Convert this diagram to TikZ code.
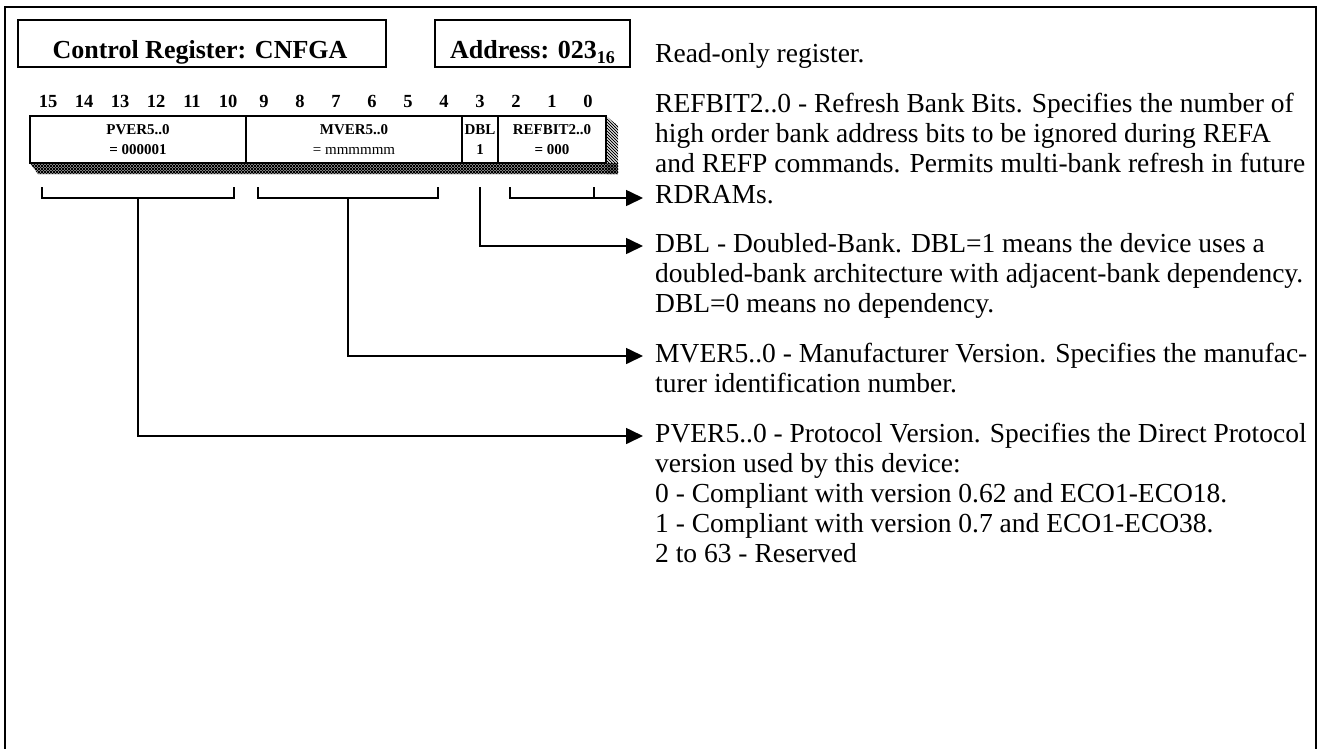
\documentclass[tikz,border=0pt]{standalone}
\usepackage{fontspec}
\setmainfont{Liberation Serif}
\usetikzlibrary{arrows.meta,patterns}
\pgfdeclarepatternformonly{regcheck}{\pgfqpoint{-0.5pt}{-0.5pt}}{\pgfqpoint{3.5pt}{3.5pt}}{\pgfqpoint{3pt}{3pt}}{%
  \pgfsetlinewidth{0.8pt}%
  \pgfpathmoveto{\pgfqpoint{0pt}{0pt}}\pgfpathlineto{\pgfqpoint{3pt}{3pt}}%
  \pgfpathmoveto{\pgfqpoint{0pt}{3pt}}\pgfpathlineto{\pgfqpoint{3pt}{0pt}}%
  \pgfusepath{stroke}}
\pgfdeclarepatternformonly{regdiag}{\pgfqpoint{-0.5pt}{-0.5pt}}{\pgfqpoint{3.5pt}{3.5pt}}{\pgfqpoint{3pt}{3pt}}{%
  \pgfsetlinewidth{0.8pt}%
  \pgfpathmoveto{\pgfqpoint{0pt}{3pt}}\pgfpathlineto{\pgfqpoint{3pt}{0pt}}%
  \pgfusepath{stroke}}
\begin{document}
\begin{tikzpicture}[x=1pt,y=-1pt,
  frameline/.style={line width=2.5pt},
  titlebox/.style={draw,line width=1.6pt,inner sep=0pt,minimum height=47pt},
  titletext/.style={font=\fontsize{26}{30}\selectfont\bfseries,anchor=base,inner sep=0pt},
  cell/.style={draw,line width=1.6pt,minimum height=47pt,inner sep=0pt,align=center,
    font=\fontsize{15}{20}\selectfont\bfseries},
  bitnum/.style={font=\fontsize{18.5}{20}\selectfont\bfseries,anchor=base,inner sep=0pt},
  desc/.style={font=\fontsize{27.5}{30}\selectfont,anchor=base west,inner sep=0pt},
  conn/.style={line width=1.6pt},
  arr/.style={conn,-{Triangle[length=17pt,width=16pt]}},
]
\useasboundingbox (0,0) rectangle (1327,748);
% outer frame (open at the bottom)
\draw[frameline] (5,760) -- (5,7) -- (1316,7) -- (1316,760);

% title boxes
\node[titlebox,minimum width=368pt] (ctrl) at (202,43.5) {};
\node[titletext] (ctrltxt) at (200,58) {Control Register: CNFGA};
\node[titlebox,minimum width=195pt] (addr) at (532.5,43.5) {};
\node[titletext] (addrtxt) at (532.5,58) {Address: 023\raisebox{-5pt}{\fontsize{18}{20}\selectfont 16}};

% bit numbers
\foreach \b in {0,...,15}
  \node[bitnum] (bit\b) at ({588-36*\b},107) {\b};

% shadow of the register
\fill[pattern=regcheck] (30,163) -- (618,163) -- (618,174) -- (38,174) -- cycle;
\fill[pattern=regdiag] (606,116) -- (618,126) -- (618,174) -- (606,174) -- cycle;

% register cells
\node[cell,minimum width=216pt] (pver) at (138,139.5) {PVER5..0\\= 000001};
\node[cell,minimum width=216pt] (mver) at (354,139.5) {MVER5..0\\{\mdseries = mmmmmm}};
\node[cell,minimum width=36pt] (dbl) at (480,139.5) {DBL\\1};
\node[cell,minimum width=108pt] (ref) at (552,139.5) {REFBIT2..0\\= 000};

% description text
\node[desc] (ro) at (655,62) {Read-only register.};
\node[desc] (r1) at (655,112) {REFBIT2..0 - Refresh Bank Bits. Specifies the number of};
\node[desc] (r2) at (655,142) {high order bank address bits to be ignored during REFA};
\node[desc] (r3) at (655,172) {and REFP commands. Permits multi-bank refresh in future};
\node[desc] (r4) at (655,203) {RDRAMs.};
\node[desc] (d1) at (655,252) {DBL - Doubled-Bank. DBL=1 means the device uses a};
\node[desc] (d2) at (655,282) {doubled-bank architecture with adjacent-bank dependency.};
\node[desc] (d3) at (655,312) {DBL=0 means no dependency.};
\node[desc] (m1) at (655,362) {MVER5..0 - Manufacturer Version. Specifies the manufac-};
\node[desc] (m2) at (655,392) {turer identification number.};
\node[desc] (p1) at (655,442) {PVER5..0 - Protocol Version. Specifies the Direct Protocol};
\node[desc] (p2) at (655,472) {version used by this device:};
\node[desc] (p3) at (655,502) {0 - Compliant with version 0.62 and ECO1-ECO18.};
\node[desc] (p4) at (655,532) {1 - Compliant with version 0.7 and ECO1-ECO38.};
\node[desc] (p5) at (655,562) {2 to 63 - Reserved};

% connector coordinates
\coordinate (pvl) at (42,187);   \coordinate (pvr) at (234,187); \coordinate (pvm) at (138,198);
\coordinate (mvl) at (258,187);  \coordinate (mvr) at (438,187); \coordinate (mvm) at (348,198);
\coordinate (dbt) at (480,187);
\coordinate (rfl) at (510,187);  \coordinate (rft) at (594,187);
\coordinate (tref) at (643,198);
\coordinate (tdbl) at (643,246);
\coordinate (tmver) at (643,356);
\coordinate (tpver) at (643,436);

% brackets and arrows
\draw[conn] (pvl) -- ++(0,11) -| (pvr);
\draw[arr] (pvm) |- (tpver);
\draw[conn] (mvl) -- ++(0,11) -| (mvr);
\draw[arr] (mvm) |- (tmver);
\draw[arr] (dbt) |- (tdbl);
\draw[arr] (rfl) |- (tref);
\draw[conn] (rft) -- (rft |- tref);
\end{tikzpicture}
\end{document}
